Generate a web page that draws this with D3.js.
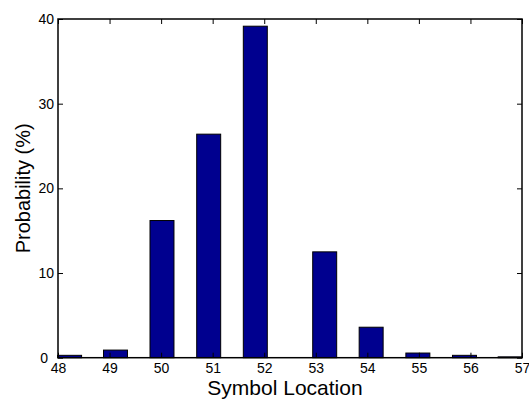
<!DOCTYPE html>
<html>
<head>
<meta charset="utf-8">
<script src="https://cdn.jsdelivr.net/npm/d3@7"></script>
<style>
  html, body { margin: 0; padding: 0; background: #fff; }
  svg { display: block; font-family: "Liberation Sans", Arial, sans-serif; }
</style>
</head>
<body>
<svg id="chart" width="529" height="401"></svg>
<script>
// Data
const binCenters = [48.225, 49.115, 50.017, 50.923, 51.827, 53.173, 54.074, 54.98, 55.884, 56.77];
const probabilities = [0.28, 0.9, 16.2, 26.4, 39.15, 12.5, 3.6, 0.55, 0.28, 0.1];
const xTicks = [48, 49, 50, 51, 52, 53, 54, 55, 56, 57];
const yTicks = [0, 10, 20, 30, 40];
const barWidthUnits = 0.465;
const xLabel = "Symbol Location";
const yLabel = "Probability (%)";

(function () {
const svg = d3.select("#chart");
const m = { left: 58, right: 522, top: 19, bottom: 357.7 };

const x = d3.scaleLinear().domain([48, 57]).range([m.left, m.right]);
const y = d3.scaleLinear().domain([0, 40]).range([m.bottom, m.top]);

// Bars
svg.append("g").selectAll("rect")
  .data(binCenters.map((c, i) => ({ c, v: probabilities[i] })))
  .join("rect")
  .attr("x", d => x(d.c - barWidthUnits / 2))
  .attr("width", d => x(d.c + barWidthUnits / 2) - x(d.c - barWidthUnits / 2))
  .attr("y", d => y(d.v))
  .attr("height", d => y(0) - y(d.v))
  .attr("fill", "#00008f")
  .attr("stroke", "#000")
  .attr("stroke-width", 1);

// Axes
const fontSize = 14;
const gBottom = svg.append("g").attr("transform", `translate(0,${m.bottom})`)
  .call(d3.axisBottom(x).tickValues(xTicks).tickFormat(d3.format("d")).tickSizeInner(-5).tickSizeOuter(0).tickPadding(5.5));
const gTop = svg.append("g").attr("transform", `translate(0,${m.top})`)
  .call(d3.axisTop(x).tickValues(xTicks).tickFormat("").tickSizeInner(-5).tickSizeOuter(0));
const gLeft = svg.append("g").attr("transform", `translate(${m.left},0)`)
  .call(d3.axisLeft(y).tickValues(yTicks).tickFormat(d3.format("d")).tickSizeInner(-5).tickSizeOuter(0).tickPadding(4));
const gRight = svg.append("g").attr("transform", `translate(${m.right},0)`)
  .call(d3.axisRight(y).tickValues(yTicks).tickFormat("").tickSizeInner(-5).tickSizeOuter(0));

[gBottom, gTop, gLeft, gRight].forEach(g => {
  g.select(".domain").remove();
  g.selectAll("line").attr("stroke", "#000").attr("stroke-width", 1);
  g.selectAll("text").attr("fill", "#000").style("font-size", fontSize + "px")
    .style("font-family", '"Liberation Sans", Arial, sans-serif');
});
// MATLAB nudges the zero label left so it does not collide with the first x label
gLeft.selectAll(".tick").filter(d => d === 0).select("text").attr("dx", -6);

// Box
svg.append("rect")
  .attr("x", m.left).attr("y", m.top)
  .attr("width", m.right - m.left).attr("height", m.bottom - m.top)
  .attr("fill", "none").attr("stroke", "#000").attr("stroke-width", 1.5);

// Axis labels
svg.append("text")
  .attr("x", 285).attr("y", 395)
  .attr("text-anchor", "middle")
  .style("font-size", "21px")
  .text(xLabel);

svg.append("text")
  .attr("transform", `translate(23,${(m.top + m.bottom) / 2}) rotate(-90)`)
  .attr("text-anchor", "middle")
  .attr("dy", "0.35em")
  .style("font-size", "20px")
  .text(yLabel);
})();
</script>
</body>
</html>
